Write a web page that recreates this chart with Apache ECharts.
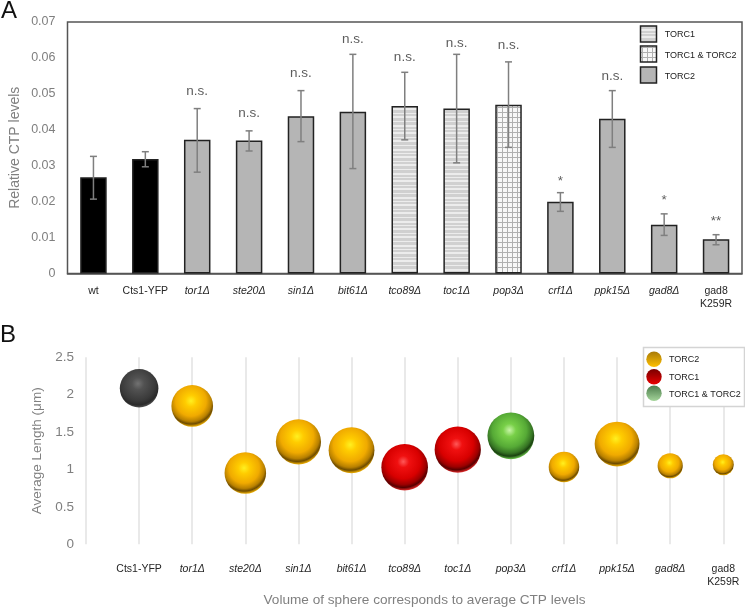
<!DOCTYPE html>
<html lang="en">
<head>
<meta charset="utf-8">
<title>CTP levels and cell length</title>
<script src="https://cdn.jsdelivr.net/npm/echarts@6/dist/echarts.min.js"></script>
<style>
  html, body { margin: 0; padding: 0; background: #fff; }
  #main { width: 745px; height: 608px; filter: blur(0.4px); }
</style>
</head>
<body>
<div id="main"></div>
<script>
// panel A
var categoriesA = ['wt', 'Cts1-YFP', 'tor1Δ', 'ste20Δ', 'sin1Δ', 'bit61Δ', 'tco89Δ', 'toc1Δ', 'pop3Δ', 'crf1Δ', 'ppk15Δ', 'gad8Δ', 'gad8\nK259R'];
var ctpLevels = [0.0268, 0.0319, 0.0372, 0.0370, 0.0438, 0.0450, 0.0466, 0.0459, 0.0470, 0.0200, 0.0431, 0.0136, 0.0095];
var errLow = [0.0207, 0.0297, 0.0282, 0.0341, 0.0367, 0.0292, 0.0372, 0.0308, 0.0351, 0.0173, 0.0351, 0.0106, 0.0080];
var errHigh = [0.0326, 0.0339, 0.0459, 0.0397, 0.0509, 0.0610, 0.0560, 0.0610, 0.0589, 0.0225, 0.0509, 0.0166, 0.0108];
var groupsA = ['ctrl', 'ctrl', 'torc2', 'torc2', 'torc2', 'torc2', 'torc1', 'torc1', 'both', 'torc2', 'torc2', 'torc2', 'torc2'];
var sigLabels = ['', '', 'n.s.', 'n.s.', 'n.s.', 'n.s.', 'n.s.', 'n.s.', 'n.s.', '*', 'n.s.', '*', '**'];
var sigY = [0, 0, 0.0506, 0.0446, 0.0558, 0.0652, 0.0603, 0.0642, 0.0634, 0.0258, 0.0550, 0.0205, 0.0144];

// panel B
var categoriesB = ['', 'Cts1-YFP', 'tor1Δ', 'ste20Δ', 'sin1Δ', 'bit61Δ', 'tco89Δ', 'toc1Δ', 'pop3Δ', 'crf1Δ', 'ppk15Δ', 'gad8Δ', 'gad8\nK259R'];
var avgLength = [2.086, 1.85, 0.953, 1.37, 1.257, 1.03, 1.265, 1.45, 1.033, 1.34, 1.05, 1.064];
var groupsB = ['ctrl', 'torc2', 'torc2', 'torc2', 'torc2', 'torc1', 'torc1', 'both', 'torc2', 'torc2', 'torc2', 'torc2'];
var ctpB = ctpLevels.slice(1);

var plainLabels = ['wt', 'Cts1-YFP', 'gad8\nK259R', ''];
var FONT = '"Liberation Sans", Arial, sans-serif';

// hatch fills
function stripes() {
  var c = document.createElement('canvas');
  c.width = 4; c.height = 24;
  var g = c.getContext('2d');
  g.fillStyle = '#d0d0d0';
  g.fillRect(0, 0, 4, 24);
  g.fillStyle = '#ececec';
  [[1, 1], [5, 2], [9, 1], [12, 2], [17, 1], [20, 2]].forEach(function (r) { g.fillRect(0, r[0], 4, r[1]); });
  return c;
}
function squares() {
  var c = document.createElement('canvas');
  c.width = 5; c.height = 5;
  var g = c.getContext('2d');
  g.fillStyle = '#f8f8f8';
  g.fillRect(0, 0, 5, 5);
  g.fillStyle = '#b0b0b0';
  g.fillRect(0, 2, 5, 1);
  g.fillRect(2, 0, 1, 5);
  return c;
}
var barFill = {
  ctrl: '#000000',
  torc2: '#b5b5b5',
  torc1: { image: stripes(), repeat: 'repeat' },
  both: { image: squares(), repeat: 'repeat' }
};

function radial(stops) {
  return new echarts.graphic.RadialGradient(0.47, 0.38, 0.63, stops.map(function (s) {
    return { offset: s[0], color: s[1] };
  }));
}
var sphereFill = {
  ctrl: radial([[0, '#727272'], [0.25, '#525252'], [0.7, '#3a3a3a'], [0.88, '#2a2a2a'], [1, '#5a5a5a']]),
  torc2: radial([[0, '#fff020'], [0.22, '#ffcc00'], [0.58, '#f0aa00'], [0.78, '#b88000'], [0.88, '#6e4c00'], [0.96, '#d89c00'], [1, '#f0b400']]),
  torc1: radial([[0, '#ff5858'], [0.2, '#f01010'], [0.58, '#d80000'], [0.78, '#9c0000'], [0.88, '#580000'], [0.96, '#c82020'], [1, '#e85050']]),
  both: radial([[0, '#c8f4a8'], [0.22, '#78d048'], [0.58, '#56aa36'], [0.78, '#367424'], [0.88, '#1a4210'], [0.96, '#5cac40'], [1, '#80d060']])
};
function legendSphere(top, bottom) {
  return new echarts.graphic.LinearGradient(0, 0, 0, 1, [
    { offset: 0, color: top }, { offset: 1, color: bottom }
  ]);
}

function xLabel(v) {
  return plainLabels.indexOf(v) >= 0 ? v : '{i|' + v + '}';
}
var xRich = { i: { fontStyle: 'italic', fontSize: 10.5, fontFamily: FONT, color: '#262626' } };

function swatch(y, fill) {
  return { type: 'rect', shape: { x: 640.5, y: y, width: 16, height: 16 }, style: { fill: fill, stroke: '#222', lineWidth: 1.5 }, z: 20 };
}
function tag(x, y, text, size, color) {
  return { type: 'text', x: x, y: y, style: { text: text, fontSize: size, fontFamily: FONT, fill: color || '#222', verticalAlign: 'middle' }, z: 20 };
}
function ball(y, fill) {
  return { type: 'circle', shape: { cx: 654, cy: y, r: 7.7 }, style: { fill: fill }, z: 20 };
}

var chart = echarts.init(document.getElementById('main'));
chart.setOption({
  animation: false,
  textStyle: { fontFamily: FONT },
  grid: [
    { left: 67.5, top: 22, width: 674.5, height: 251.5, outerBoundsMode: 'none', show: true, borderColor: '#555', borderWidth: 1.5, backgroundColor: '#fff' },
    { left: 86, top: 357.3, width: 637.3, height: 187, outerBoundsMode: 'none' }
  ],
  xAxis: [
    {
      type: 'category', gridIndex: 0, data: categoriesA,
      axisTick: { show: false },
      axisLine: { lineStyle: { color: '#555', width: 1.5 } },
      axisLabel: { margin: 11, fontSize: 10.5, color: '#262626', lineHeight: 13, interval: 0, formatter: xLabel, rich: xRich }
    },
    {
      type: 'category', gridIndex: 1, data: categoriesB, boundaryGap: false,
      axisTick: { show: false }, axisLine: { show: false },
      splitLine: { show: true, interval: 0, lineStyle: { color: '#e2e2e2', width: 1.5 } },
      axisLabel: { margin: 18, fontSize: 10.5, color: '#262626', lineHeight: 13, interval: 0, formatter: xLabel, rich: xRich }
    }
  ],
  yAxis: [
    {
      type: 'value', gridIndex: 0, min: 0, max: 0.07, interval: 0.01,
      name: 'Relative CTP levels', nameLocation: 'middle', nameGap: 45, nameMoveOverlap: false,
      nameTextStyle: { fontSize: 14, color: '#808080' },
      axisLine: { show: false }, axisTick: { show: false }, splitLine: { show: false },
      axisLabel: { margin: 12, fontSize: 12.5, color: '#7f7f7f', formatter: function (v) { return +v.toFixed(2) + ''; } }
    },
    {
      type: 'value', gridIndex: 1, min: 0, max: 2.5, interval: 0.5,
      name: 'Average Length (μm)', nameLocation: 'middle', nameGap: 42,
      nameTextStyle: { fontSize: 13.5, color: '#808080' },
      axisLine: { show: false }, axisTick: { show: false }, splitLine: { show: false },
      axisLabel: { margin: 12, fontSize: 13.5, color: '#7f7f7f' }
    }
  ],
  series: [
    {
      type: 'bar', xAxisIndex: 0, yAxisIndex: 0, barWidth: 26.5,
      data: ctpLevels.map(function (v, i) {
        return { value: v, itemStyle: { color: barFill[groupsA[i]], borderColor: '#222', borderWidth: 1.5 } };
      })
    },
    {
      type: 'custom', xAxisIndex: 0, yAxisIndex: 0, z: 5,
      encode: { x: 0, y: [1, 2] },
      data: errLow.map(function (v, i) { return [i, v, errHigh[i]]; }),
      renderItem: function (params, api) {
        var low = api.coord([api.value(0), api.value(1)]);
        var high = api.coord([api.value(0), api.value(2)]);
        var style = { stroke: '#7f7f7f', lineWidth: 1.5, fill: null };
        function seg(x1, y1, x2, y2) {
          return { type: 'line', shape: { x1: x1, y1: y1, x2: x2, y2: y2 }, style: style };
        }
        return {
          type: 'group',
          children: [
            seg(low[0], low[1], high[0], high[1]),
            seg(low[0] - 3.5, low[1], low[0] + 3.5, low[1]),
            seg(high[0] - 3.5, high[1], high[0] + 3.5, high[1])
          ]
        };
      }
    },
    {
      type: 'scatter', xAxisIndex: 0, yAxisIndex: 0, symbolSize: 1, z: 6,
      itemStyle: { color: 'transparent' },
      data: sigY.map(function (v, i) { return [i, v, sigLabels[i]]; }).filter(function (d) { return d[2]; }),
      label: {
        show: true, position: 'inside', fontSize: 13.5, color: '#333',
        formatter: function (p) { return p.value[2]; }
      }
    },
    {
      type: 'scatter', xAxisIndex: 1, yAxisIndex: 1, z: 5,
      symbolSize: function (d) { return 216 * Math.sqrt(d[2]); },
      data: avgLength.map(function (v, i) {
        return { value: [i + 1, v, ctpB[i]], itemStyle: { color: sphereFill[groupsB[i]], opacity: 1 } };
      })
    }
  ],
  graphic: [
    tag(1, 11, 'A', 24, '#111'),
    tag(0, 335, 'B', 24, '#111'),

    swatch(26, barFill.torc1), swatch(46, barFill.both), swatch(67, barFill.torc2),
    tag(664.7, 35, 'TORC1', 9), tag(664.7, 56, 'TORC1 & TORC2', 9), tag(664.7, 77, 'TORC2', 9),

    { type: 'rect', shape: { x: 643.5, y: 347.5, width: 101, height: 59 }, style: { fill: '#fff', stroke: '#d4d4d4', lineWidth: 1.5 }, z: 19 },
    ball(359.3, legendSphere('#a87a08', '#ffc000')),
    ball(376.7, legendSphere('#780000', '#e80000')),
    ball(393.3, legendSphere('#4c7c4c', '#a4d49a')),
    tag(669, 359.7, 'TORC2', 9), tag(669, 378, 'TORC1', 9), tag(669, 395, 'TORC1 & TORC2', 9),

    { type: 'text', x: 424.5, y: 600, style: { text: 'Volume of sphere corresponds to average CTP levels', fontSize: 13.6, fontFamily: FONT, fill: '#808080', align: 'center', verticalAlign: 'middle' } }
  ]
});
</script>
</body>
</html>
